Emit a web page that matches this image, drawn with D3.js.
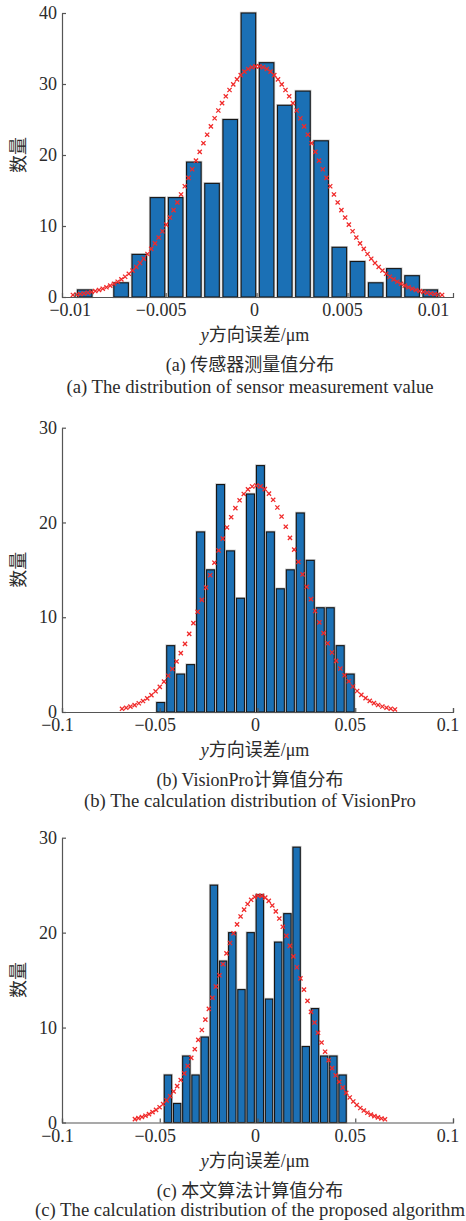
<!DOCTYPE html>
<html>
<head>
<meta charset="utf-8">
<script src="https://cdn.jsdelivr.net/npm/d3@7"></script>
<style>
  body { margin: 0; background: #fff; }
  text { font-family: "Liberation Serif", "Noto Sans CJK SC", serif; fill: #2b2b2b; }
</style>
</head>
<body>
<svg id="chart" width="466" height="1221"></svg>
<script>
// ---- data ----
// (a) sensor measurement, y error in um
const centersA = [-0.00945, -0.00845, -0.00745, -0.00645, -0.00545, -0.00445, -0.00345, -0.00245, -0.00145, -0.00045,
                  0.00055, 0.00155, 0.00255, 0.00355, 0.00455, 0.00555, 0.00655, 0.00755, 0.00855, 0.00955];
const countsA = [1, 0, 2, 6, 14, 14, 19, 16, 25, 40, 33, 27, 29, 22, 7, 5, 2, 4, 3, 1];
const xTicksA = [-0.01, -0.005, 0, 0.005, 0.01];
const yTicksA = [0, 10, 20, 30, 40];

// (b) VisionPro
const centersB = [-0.0495, -0.0444, -0.0393, -0.0342, -0.0291, -0.0240, -0.0189, -0.0138, -0.0087, -0.0036,
                  0.0015, 0.0066, 0.0117, 0.0168, 0.0219, 0.0270, 0.0321, 0.0372, 0.0423, 0.0474];
const countsB = [1, 7, 4, 5, 19, 15, 24, 17, 12, 23, 26, 19, 13, 15, 21, 16, 11, 11, 7, 4];

// (c) proposed algorithm
const centersC = [-0.0458, -0.0411, -0.0364, -0.0317, -0.0270, -0.0223, -0.0176, -0.0129, -0.0082, -0.0035,
                  0.0012, 0.0059, 0.0106, 0.0153, 0.0200, 0.0247, 0.0294, 0.0341, 0.0388, 0.0435];
const countsC = [5, 2, 7, 5, 9, 25, 17, 20, 14, 20, 24, 13, 19, 22, 29, 8, 12, 7, 7, 5];

const xTicksBC = [-0.1, -0.05, 0, 0.05, 0.1];
const yTicksBC = [0, 10, 20, 30];

// normal fit shown with red x markers: [mean, sigma, peak count, first x, last x, number of markers]
const fitA = [0.00005, 0.0033, 32.5, -0.0101, 0.0102, 100];
const fitB = [-0.0005, 0.0236, 23.9, -0.0693, 0.0703, 66];
const fitC = [0.0010, 0.0220, 23.9, -0.0627, 0.0652, 72];

const captionsA = ["(a) 传感器测量值分布", "(a) The distribution of sensor measurement value"];
const captionsB = ["(b) VisionPro计算值分布", "(b) The calculation distribution of VisionPro"];
const captionsC = ["(c) 本文算法计算值分布", "(c) The calculation distribution of the proposed algorithm"];

const panels = [
  { centers: centersA, counts: countsA, xTicks: xTicksA, yTicks: yTicksA, fit: fitA, caps: captionsA,
    xDomain: [-0.0107, 0.0108], yMax: 40, top: 13, bottom: 297, capGap: 95.5 },
  { centers: centersB, counts: countsB, xTicks: xTicksBC, yTicks: yTicksBC, fit: fitB, caps: captionsB,
    xDomain: [-0.1, 0.1], yMax: 30, top: 427.7, bottom: 712, capGap: 94.5 },
  { centers: centersC, counts: countsC, xTicks: xTicksBC, yTicks: yTicksBC, fit: fitC, caps: captionsC,
    xDomain: [-0.1, 0.1], yMax: 30, top: 837.7, bottom: 1122.5, capGap: 93 }
];

const left = 62, right = 453;
const barFill = '#1b70b5';
const fmt = d => (d < 0 ? '\u2212' : '') + String(Math.abs(d));

const svg = d3.select('#chart');

panels.forEach(p => {
  const x = d3.scaleLinear().domain(p.xDomain).range([left, right]);
  const y = d3.scaleLinear().domain([0, p.yMax]).range([p.bottom, p.top]);
  const g = svg.append('g');

  const step = p.centers[1] - p.centers[0];
  const bw = x(p.centers[0] + step * 0.8) - x(p.centers[0]);
  const bars = p.centers.map((c, i) => ({ c: c, n: p.counts[i] })).filter(d => d.n > 0);

  // soft halo then bar
  g.selectAll('rect.halo').data(bars).enter().append('rect')
    .attr('x', d => x(d.c) - bw / 2)
    .attr('y', d => y(d.n))
    .attr('width', bw)
    .attr('height', d => y(0) - y(d.n))
    .attr('fill', 'none')
    .attr('stroke', '#c9c9c9')
    .attr('stroke-width', 2.6);
  g.selectAll('rect.bar').data(bars).enter().append('rect')
    .attr('x', d => x(d.c) - bw / 2)
    .attr('y', d => y(d.n))
    .attr('width', bw)
    .attr('height', d => y(0) - y(d.n))
    .attr('fill', barFill)
    .attr('stroke', '#161616')
    .attr('stroke-width', 1.1);

  // fitted normal markers
  const [mu, sd, peak, x0, x1, n] = p.fit;
  const pts = d3.range(n).map(i => {
    const xv = x0 + (x1 - x0) * i / (n - 1);
    return [xv, peak * Math.exp(-0.5 * Math.pow((xv - mu) / sd, 2))];
  });
  g.selectAll('path.mk').data(pts).enter().append('path')
    .attr('transform', d => 'translate(' + x(d[0]) + ',' + y(d[1]) + ')')
    .attr('d', 'M-2.1,-2.1L2.1,2.1M-2.1,2.1L2.1,-2.1')
    .attr('stroke', '#f02a2a')
    .attr('stroke-width', 1.3)
    .attr('fill', 'none');

  // axes, ticks inward like MATLAB
  const xAxis = g.append('g')
    .attr('transform', 'translate(0,' + p.bottom + ')')
    .call(d3.axisBottom(x).tickValues(p.xTicks).tickFormat(fmt).tickSizeInner(-4).tickSizeOuter(-4).tickPadding(8));
  const yAxis = g.append('g')
    .attr('transform', 'translate(' + left + ',0)')
    .call(d3.axisLeft(y).tickValues(p.yTicks).tickFormat(d3.format('d')).tickSizeInner(-4).tickSizeOuter(0).tickPadding(5));
  [xAxis, yAxis].forEach(a => {
    a.selectAll('path, line').attr('stroke', '#555').attr('stroke-width', 1.2);
    a.selectAll('text').attr('font-size', 18).attr('fill', '#2b2b2b')
      .style('font-family', '"Liberation Serif", serif');
  });
  xAxis.selectAll('text')
    .attr('dx', d => d > 0 ? -5.5 : (d === 0 ? -2.5 : -5))
    .attr('dy', '0.62em');

  // y label
  g.append('text')
    .attr('transform', 'translate(25,' + (p.top + p.bottom) / 2 + ')rotate(-90)')
    .attr('text-anchor', 'middle')
    .attr('font-size', 18)
    .text('数量');

  // x label
  const xl = g.append('text')
    .attr('x', 255)
    .attr('y', p.bottom + 44)
    .attr('text-anchor', 'middle')
    .attr('font-size', 18);
  xl.append('tspan').attr('font-style', 'italic').text('y');
  xl.append('tspan').text('方向误差/μm');

  // captions
  g.append('text')
    .attr('x', 250)
    .attr('y', p.bottom + 74)
    .attr('text-anchor', 'middle')
    .attr('font-size', 18)
    .text(p.caps[0]);
  g.append('text')
    .attr('x', 250)
    .attr('y', p.bottom + p.capGap)
    .attr('text-anchor', 'middle')
    .attr('font-size', 18.7)
    .text(p.caps[1]);
});
</script>
</body>
</html>
